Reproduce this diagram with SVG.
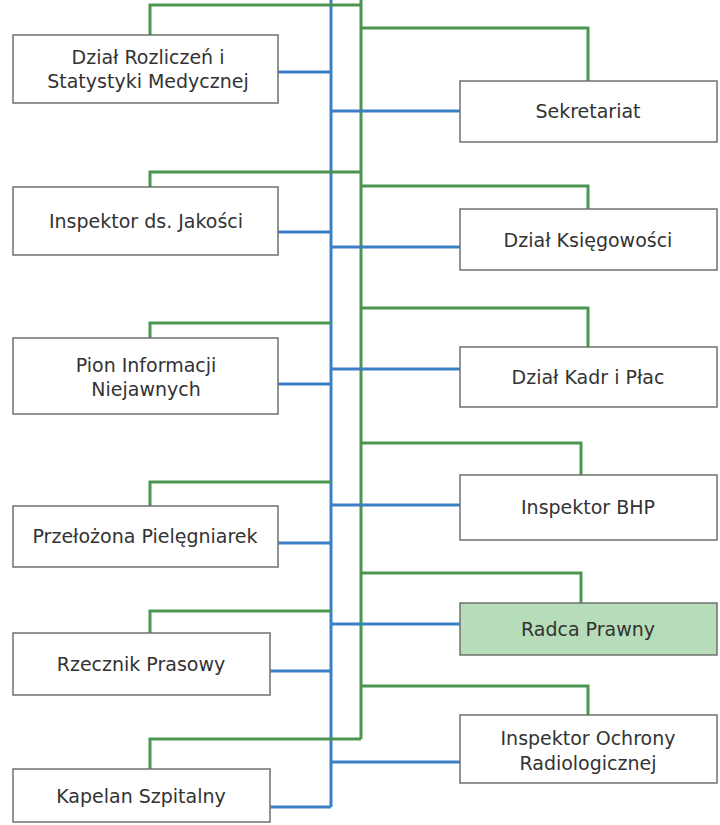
<svg xmlns="http://www.w3.org/2000/svg" width="720" height="825" viewBox="0 0 720 825">
<style>
.box{fill:#ffffff;stroke:#707070;stroke-width:1.5}
.hl{fill:#b6dcb9}
.t{font-family:"DejaVu Sans",Verdana,sans-serif;font-size:19px;fill:#333333;text-anchor:middle}
.g{fill:none;stroke:#4a9650;stroke-width:3}
.b{fill:none;stroke:#3b80c6;stroke-width:3}
</style>
<rect width="720" height="825" fill="#ffffff"/>
<g id="connectors">
  <path class="b" d="M331,0 V807"/>
  <path class="g" d="M361,0 V739"/>
  <!-- left green -->
  <path class="g" d="M150,35 V5 H361"/>
  <path class="g" d="M150,187 V172 H361"/>
  <path class="g" d="M150,338 V323 H331"/>
  <path class="g" d="M150,506 V482 H331"/>
  <path class="g" d="M150,633 V611 H331"/>
  <path class="g" d="M150,769 V739 H361"/>
  <!-- right green -->
  <path class="g" d="M361,28 H588 V81"/>
  <path class="g" d="M361,186 H588 V209"/>
  <path class="g" d="M361,308 H588 V347"/>
  <path class="g" d="M361,443 H581 V475"/>
  <path class="g" d="M361,573 H581 V603"/>
  <path class="g" d="M361,686 H588 V715"/>
  <!-- left blue -->
  <path class="b" d="M278,72 H331"/>
  <path class="b" d="M278,232 H331"/>
  <path class="b" d="M278,384 H331"/>
  <path class="b" d="M278,543 H331"/>
  <path class="b" d="M270,671 H331"/>
  <path class="b" d="M270,807 H331"/>
  <!-- right blue -->
  <path class="b" d="M331,111 H460"/>
  <path class="b" d="M331,247 H460"/>
  <path class="b" d="M331,369 H460"/>
  <path class="b" d="M331,505 H460"/>
  <path class="b" d="M331,624 H460"/>
  <path class="b" d="M331,762 H460"/>
</g>
<g id="dzial-rozliczen"><rect class="box" x="13" y="35" width="265" height="68"/><text class="t" x="148" y="64">Dział Rozliczeń i</text><text class="t" x="148" y="88">Statystyki Medycznej</text></g>
<g id="sekretariat"><rect class="box" x="460" y="81" width="257" height="61"/><text class="t" x="588" y="118">Sekretariat</text></g>
<g id="inspektor-jakosci"><rect class="box" x="13" y="187" width="265" height="68"/><text class="t" x="146" y="228">Inspektor ds. Jakości</text></g>
<g id="dzial-ksiegowosci"><rect class="box" x="460" y="209" width="257" height="61"/><text class="t" x="588" y="247">Dział Księgowości</text></g>
<g id="pion-informacji"><rect class="box" x="13" y="338" width="265" height="76"/><text class="t" x="146" y="372">Pion Informacji</text><text class="t" x="146" y="396">Niejawnych</text></g>
<g id="dzial-kadr"><rect class="box" x="460" y="347" width="257" height="60"/><text class="t" x="588" y="384">Dział Kadr i Płac</text></g>
<g id="inspektor-bhp"><rect class="box" x="460" y="475" width="257" height="65"/><text class="t" x="588" y="514">Inspektor BHP</text></g>
<g id="przelozona"><rect class="box" x="13" y="506" width="265" height="61"/><text class="t" x="145" y="543">Przełożona Pielęgniarek</text></g>
<g id="radca-prawny"><rect class="box hl" x="460" y="603" width="257" height="52"/><text class="t" x="588" y="636">Radca Prawny</text></g>
<g id="rzecznik"><rect class="box" x="13" y="633" width="257" height="62"/><text class="t" x="141" y="671">Rzecznik Prasowy</text></g>
<g id="inspektor-ochrony"><rect class="box" x="460" y="715" width="257" height="68"/><text class="t" x="588" y="745">Inspektor Ochrony</text><text class="t" x="588" y="770">Radiologicznej</text></g>
<g id="kapelan"><rect class="box" x="13" y="769" width="257" height="53"/><text class="t" x="141" y="803">Kapelan Szpitalny</text></g>
</svg>
